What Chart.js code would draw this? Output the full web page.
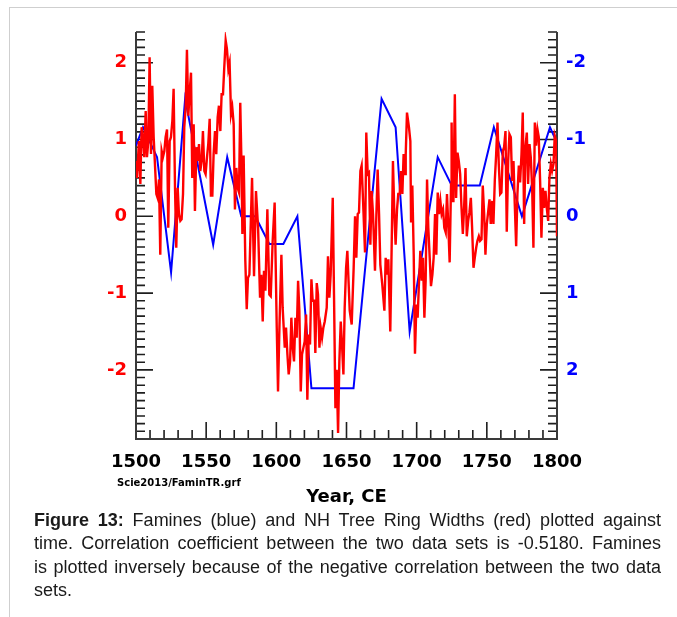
<!DOCTYPE html>
<html><head><meta charset="utf-8">
<script src="https://cdn.jsdelivr.net/npm/chart.js@4.4.1/dist/chart.umd.min.js"></script>
<style>
html,body{margin:0;padding:0;background:#fff;width:677px;height:617px;overflow:hidden;}
#frame{position:absolute;left:9px;top:7px;width:700px;height:700px;border-left:1px solid #cfcfcf;border-top:1px solid #cfcfcf;}
#c{position:absolute;left:0;top:0;}
#src{position:absolute;left:117px;top:477px;font:bold 10px "DejaVu Sans",sans-serif;color:#000;white-space:nowrap;}
#cap{position:absolute;left:34px;top:509px;width:627px;font:18px/23.4px "Liberation Sans",Arial,sans-serif;color:#1a1a1a;}
#cap div{text-align:justify;text-align-last:justify;}
#cap div.last{text-align-last:left;}
</style></head>
<body>
<div id="frame"></div>
<canvas id="c" width="677" height="510"></canvas>
<div id="src">Scie2013/FaminTR.grf</div>
<div id="cap">
<div><b>Figure 13:</b> Famines (blue) and NH Tree Ring Widths (red) plotted against</div>
<div>time. Correlation coefficient between the two data sets is -0.5180. Famines</div>
<div>is plotted inversely because of the negative correlation between the two data</div>
<div class="last">sets.</div>
</div>
<script>
// NH tree ring widths (red, left axis)
const redYears = [1500,1500.7,1502.1,1503.1,1504.0,1505.0,1505.9,1506.9,1507.8,1508.8,1509.7,1510.7,1511.6,1512.6,1513.5,1514.5,1515.4,1516.4,1517.3,1518.3,1519.2,1520.2,1521.1,1522.1,1523.0,1524.0,1524.9,1525.9,1526.8,1527.8,1528.7,1529.7,1530.6,1531.6,1532.5,1533.5,1534.4,1535.4,1536.3,1537.3,1538.2,1539.2,1540.1,1541.1,1542.0,1543.0,1543.9,1544.9,1545.8,1546.8,1547.7,1548.7,1549.6,1550.6,1551.5,1552.5,1553.4,1554.4,1555.3,1556.3,1557.2,1558.2,1559.1,1560.1,1561.0,1562.0,1562.9,1563.9,1564.8,1565.8,1566.7,1567.7,1568.6,1569.6,1570.5,1571.5,1572.4,1573.4,1574.3,1575.3,1575.8,
1576.7,1577.9,1578.9,1579.8,1580.8,1581.7,1582.7,1584.1,1585.5,1587.0,1588.4,1589.3,1590.3,1591.2,1592.2,1593.6,1595.0,1596.0,1597.4,1598.8,1600.3,1601.2,1602.2,1603.6,1604.5,1606.0,1606.9,1607.9,1608.8,1609.8,1610.7,1611.7,1612.6,1613.6,1614.5,1615.5,1616.4,1617.4,1618.3,1619.3,1620.2,1621.2,1622.1,1623.1,1624.0,1625.0,1625.9,1626.9,1627.8,1628.8,1629.7,1630.7,1631.6,1632.6,1633.5,1634.5,1635.9,1636.8,1637.8,1638.7,1640.2,1641.1,1642.1,1643.0,1644.0,1644.9,1645.9,1646.8,1647.8,1648.7,1649.7,1650.6,
1652.3,1653.7,1655.1,1656.1,1657.0,1658.0,1658.9,1659.9,1660.8,1661.8,1663.2,1664.1,1665.1,1666.0,1667.0,1667.9,1668.9,1670.3,1671.3,1672.2,1673.2,1674.1,1675.5,1677.0,1677.9,1678.9,1679.8,1681.2,1682.2,1683.1,1684.1,1685.0,1686.0,1686.9,1687.9,1688.8,1689.8,1690.7,1691.7,1692.2,1693.1,1694.5,1695.5,1696.0,1696.9,1697.9,1698.8,1699.8,1700.7,1701.7,1702.6,1703.6,1704.5,1705.5,1706.4,1707.4,1708.3,1709.3,1710.2,1711.2,1712.1,1713.1,1714.0,1715.0,1715.9,1716.9,1717.8,1718.8,1719.7,1720.7,1721.6,1722.6,1723.5,1724.5,1724.9,1725.4,
1726.2,1727.2,1728.1,1729.1,1730.0,1731.0,1731.9,1732.9,1733.8,1734.8,1735.7,1736.7,1737.6,1738.6,1739.5,1740.5,1741.4,1742.4,1743.3,1744.3,1745.2,1746.2,1747.1,1748.1,1749.0,1750.0,1750.9,1751.9,1752.8,1753.8,1754.7,1755.7,1756.6,1757.6,1758.5,1759.5,1760.4,1761.4,1762.3,1763.3,1764.2,1765.2,1766.1,1767.1,1768.0,1769.0,1769.9,1770.9,1771.8,1772.8,1773.7,1774.7,1775.6,1776.6,1777.5,1778.5,1779.4,1780.4,1781.3,1782.3,1783.2,1784.2,1785.1,1786.1,1787.0,1788.0,1788.9,1789.9,1790.8,1791.8,1792.7,1793.7,1794.6,1795.6,1796.5,1797.5,1798.4,1799.4,1800];
const redValues = [0.72,0.50,0.98,0.42,1.16,1.03,0.77,1.37,0.77,0.98,2.07,0.81,1.70,1.03,0.68,0.29,0.24,0.48,-0.50,0.85,0.77,0.85,1.03,1.13,-0.15,0.98,1.03,1.24,1.66,0.37,-0.41,0.37,0.03,-0.06,-0.04,0.29,1.16,1.42,2.17,1.31,1.61,1.87,0.50,1.20,0.07,0.90,0.72,0.94,0.59,0.72,1.11,0.59,0.55,0.77,0.94,1.27,0.27,0.27,0.81,1.11,0.81,1.29,1.44,1.11,1.59,1.59,1.94,2.29,2.18,1.92,2.00,1.33,1.42,1.20,0.09,0.63,0.37,0.31,1.48,0.55,-0.23,
0.79,-0.58,-1.21,-0.80,-0.76,-0.15,0.50,-0.78,0.33,-0.15,-1.06,-0.76,-1.37,-0.71,-0.97,0.09,-1.02,-1.04,-0.32,0.18,-1.45,-2.28,-1.45,-0.50,-1.19,-1.71,-1.45,-1.80,-2.06,-1.89,-1.32,-1.71,-1.89,-1.32,-1.58,-0.84,-1.23,-2.28,-1.80,-1.71,-1.63,-1.28,-2.39,-1.54,-1.67,-0.82,-1.10,-1.10,-1.78,-0.87,-1.02,-1.71,-1.45,-1.58,-1.45,-1.37,-1.19,-0.52,-1.06,-0.76,0.24,-1.02,-2.50,-2.00,-2.82,-1.89,-1.37,-1.67,-2.06,-1.19,-0.67,-0.45,
-1.23,-1.41,-0.67,0.00,-0.54,0.03,0.05,0.59,0.66,0.20,-0.47,1.09,0.55,0.57,-0.37,0.33,0.03,-0.71,0.03,0.61,0.03,-0.63,-0.89,-1.23,-0.54,-0.76,-0.56,-1.50,-0.37,0.72,0.03,-0.37,0.09,0.29,0.29,0.59,0.29,0.81,0.55,0.81,1.35,1.16,0.98,-0.08,0.40,-0.50,-1.79,-1.15,-1.32,-0.84,-0.45,-0.84,-0.54,-1.32,-0.84,0.48,-0.15,-0.54,-0.91,-0.76,-0.54,0.03,-0.50,0.31,0.03,0.20,0.03,0.09,-0.15,-0.21,0.29,-0.15,-0.60,0.42,1.22,0.20,
0.20,1.59,0.24,0.83,0.72,0.55,0.13,-0.23,0.11,0.63,-0.26,-0.06,0.05,0.24,-0.15,-0.67,-0.54,-0.41,-0.32,-0.26,-0.32,-0.30,0.40,0.03,-0.50,-0.10,0.05,0.22,-0.10,0.20,-0.10,0.48,0.79,1.22,0.68,0.29,0.31,0.85,0.90,1.11,-0.20,0.72,1.07,1.03,0.46,0.72,0.16,-0.39,0.29,0.66,0.44,0.81,1.35,-0.10,0.90,1.09,0.42,0.94,0.77,0.37,-0.41,1.22,0.92,1.13,1.03,0.44,-0.28,0.37,0.11,0.33,0.11,-0.06,0.50,0.68,0.59,0.68,1.05,0.98,-0.26];

// Famines (blue, right axis, plotted inversely)
const famineYears = [1500,1505,1515,1525,1535,1555,1565,1575,1585,1595,1605,1615,1625,1655,1675,1685,1695,1715,1725,1745,1755,1775,1795,1800];
const famineValues = [-0.92,-1.16,-0.77,0.73,-1.53,0.37,-0.77,0,0,0.36,0.36,0,2.24,2.24,-1.53,-1.16,1.50,-0.77,-0.40,-0.40,-1.16,0,-1.16,-0.96];

// Tick labels
const yearTicks = [1500,1550,1600,1650,1700,1750,1800];
const ringTicks = [-2,-1,0,1,2];
const famineTicks = [-2,-1,0,1,2];

const redData = redYears.map((x,i)=>({x:x, y:redValues[i]}));
const blueData = famineYears.map((x,i)=>({x:x, y:famineValues[i]}));

const innerTicks = {
  id:'innerTicks',
  beforeDatasetsDraw(chart){
    const {ctx, chartArea:a, scales} = chart;
    const x = scales.x, yl = scales.y, yr = scales.y2;
    ctx.save();
    ctx.strokeStyle = '#1e1e1e'; ctx.lineWidth = 1.6;
    ctx.beginPath();
    for (let v = x.min; v <= x.max; v += 10) {
      const px = x.getPixelForValue(v), len = (v % 50 === 0) ? 17 : 9;
      ctx.moveTo(px, a.bottom); ctx.lineTo(px, a.bottom - len);
    }
    for (let i = Math.round(yl.min*10); i <= Math.round(yl.max*10); i++) {
      const py = yl.getPixelForValue(i/10), len = (i % 10 === 0) ? 17 : 9;
      ctx.moveTo(a.left, py); ctx.lineTo(a.left + len, py);
    }
    for (let i = Math.round(yr.min*10); i <= Math.round(yr.max*10); i++) {
      const py = yr.getPixelForValue(i/10), len = (i % 10 === 0) ? 17 : 9;
      ctx.moveTo(a.right, py); ctx.lineTo(a.right - len, py);
    }
    ctx.stroke();
    ctx.strokeStyle = '#3a3a3a'; ctx.lineWidth = 2;
    ctx.beginPath();
    ctx.moveTo(a.left, a.top); ctx.lineTo(a.left, a.bottom); ctx.lineTo(a.right, a.bottom); ctx.lineTo(a.right, a.top);
    ctx.stroke();
    ctx.restore();
  }
};

const tickFont = {family:'"DejaVu Sans", Verdana, sans-serif', weight:'bold', size:18};

new Chart(document.getElementById('c'), {
  type:'line',
  data:{datasets:[
    {label:'NH Tree Ring Widths', data:redData, yAxisID:'y', borderColor:'#ff0000', borderWidth:2.4, pointRadius:0, tension:0, fill:false},
    {label:'Famines', data:blueData, yAxisID:'y2', borderColor:'#0000ff', borderWidth:2, pointRadius:0, tension:0, fill:false}
  ]},
  options:{
    responsive:false, animation:false, devicePixelRatio:1,
    layout:{padding:{top:32,left:0,right:0,bottom:0}},
    plugins:{legend:{display:false}, tooltip:{enabled:false}},
    scales:{
      x:{type:'linear', position:'bottom', min:1500, max:1800,
        afterBuildTicks:s=>{s.ticks = yearTicks.map(v=>({value:v}));},
        afterFit:s=>{s.height = 71;},
        grid:{display:false, drawTicks:false}, border:{display:false},
        ticks:{color:'#000', font:tickFont, padding:13, maxRotation:0, autoSkip:false, callback:v=>String(v)},
        title:{display:true, text:'Year, CE', color:'#000', font:{family:'"DejaVu Sans", sans-serif', weight:'bold', size:18}, padding:{top:0,bottom:2}}
      },
      y:{type:'linear', position:'left', min:-2.9, max:2.4,
        afterBuildTicks:s=>{s.ticks = ringTicks.map(v=>({value:v}));},
        afterFit:s=>{s.width = 136;},
        grid:{display:false, drawTicks:false}, border:{display:false},
        ticks:{color:'#ff0000', font:tickFont, padding:9, callback:v=>String(v)}
      },
      y2:{type:'linear', position:'right', reverse:true, min:-2.4, max:2.9,
        afterBuildTicks:s=>{s.ticks = famineTicks.map(v=>({value:v}));},
        afterFit:s=>{s.width = 120;},
        grid:{display:false, drawTicks:false}, border:{display:false},
        ticks:{color:'#0000ff', font:tickFont, padding:9, callback:v=>String(v)}
      }
    }
  },
  plugins:[innerTicks]
});
</script>
</body></html>
